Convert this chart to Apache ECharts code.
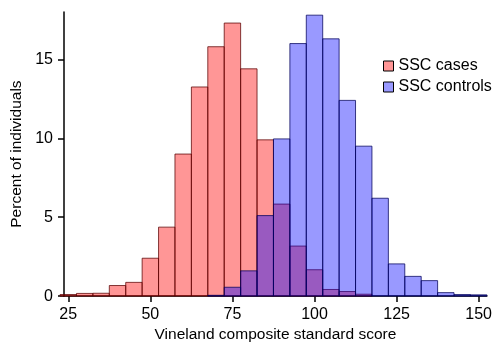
<!DOCTYPE html>
<html>
<head>
<meta charset="utf-8">
<script src="https://cdn.jsdelivr.net/npm/echarts@6/dist/echarts.min.js"></script>
<style>
html,body{margin:0;padding:0;background:#fff;}
#chart{width:495px;height:348px;}
</style>
</head>
<body>
<div id="chart"></div>
<script>
// Bin centres (width 5)
const binCenters = [25,30,35,40,45,50,55,60,65,70,75,80,85,90,95,100,105,110,115,120,125,130,135,140,145,150];
// Percent of individuals
const casesPct =    [0.1,0.17,0.18,0.67,0.87,2.4,4.37,9.0,13.25,15.8,17.3,14.4,9.9,5.83,3.17,1.67,0.42,0.29,0.12,0,0,0,0,0,0,0];
const controlsPct = [0,0,0,0,0,0,0,0,0,0.05,0.56,1.6,5.1,9.96,16.0,17.8,16.3,12.4,9.5,6.2,2.04,1.25,0.98,0.22,0.1,0.08];
const xTicks = [25,50,75,100,125,150];
const yTicks = [0,5,10,15];
const seriesNames = ['SSC cases','SSC controls'];
const binWidth = 5;

const FONT = '"Liberation Sans", Arial, Helvetica, sans-serif';
const chart = echarts.init(document.getElementById('chart'), null, {renderer:'canvas'});

function mkData(vals){ return binCenters.map((c,i)=>[c, vals[i]]).filter(d=>d[1]>0); }
function renderer(fill, stroke){
  return function(params, api){
    const c = api.value(0), v = api.value(1);
    const p0 = api.coord([c - binWidth/2, v]);
    const p1 = api.coord([c + binWidth/2, 0]);
    return {
      type:'rect',
      shape:{x:p0[0], y:p0[1], width:p1[0]-p0[0], height:p1[1]-p0[1]},
      style:{fill:fill, stroke:stroke, lineWidth:1}
    };
  };
}
const redFill = 'rgba(255,0,0,0.41)', redStroke = 'rgba(90,0,0,0.75)';
const blueFill = 'rgba(0,0,255,0.40)', blueStroke = 'rgba(0,0,90,0.75)';

chart.setOption({
  animation:false,
  backgroundColor:'#fff',
  textStyle:{fontFamily:FONT},
  grid:{left:64, right:5, top:12, bottom:48},
  legend:{
    orient:'vertical', left:383, top:58, padding:0, itemWidth:10, itemHeight:10, itemGap:5,
    textStyle:{fontFamily:FONT, fontSize:16, color:'#000', lineHeight:15},
    data:[
      {name:seriesNames[0], icon:'rect', itemStyle:{color:'#ff9696', borderColor:'#000', borderWidth:1}},
      {name:seriesNames[1], icon:'rect', itemStyle:{color:'#9999ff', borderColor:'#000', borderWidth:1}}
    ]
  },
  xAxis:{
    type:'value', min:23.7, max:152.5,
    name:'Vineland composite standard score', nameLocation:'middle', nameGap:30,
    nameTextStyle:{fontFamily:FONT, fontSize:15.5, color:'#000'},
    axisLine:{show:true, lineStyle:{color:'#000', width:1.5}},
    axisTick:{show:true, length:6, lineStyle:{color:'#000', width:1.5}, customValues:xTicks},
    axisLabel:{color:'#000', fontSize:16, fontFamily:FONT, margin:10, customValues:xTicks},
    splitLine:{show:false}
  },
  yAxis:{
    type:'value', min:0, max:18,
    name:'Percent of individuals', nameLocation:'middle', nameGap:38,
    nameTextStyle:{fontFamily:FONT, fontSize:15.5, color:'#000'},
    axisLine:{show:true, lineStyle:{color:'#000', width:1.5}},
    axisTick:{show:true, length:6, lineStyle:{color:'#000', width:1.5}, customValues:yTicks},
    axisLabel:{color:'#000', fontSize:16, fontFamily:FONT, margin:11, customValues:yTicks},
    splitLine:{show:false}
  },
  series:[
    {name:seriesNames[0], type:'custom', clip:false, renderItem:renderer(redFill, redStroke),
     itemStyle:{color:'#ff9696'}, encode:{x:0,y:1}, data:mkData(casesPct), z:2},
    {name:seriesNames[1], type:'custom', clip:false, renderItem:renderer(blueFill, blueStroke),
     itemStyle:{color:'#9999ff'}, encode:{x:0,y:1}, data:mkData(controlsPct), z:3}
  ]
});
</script>
</body>
</html>
